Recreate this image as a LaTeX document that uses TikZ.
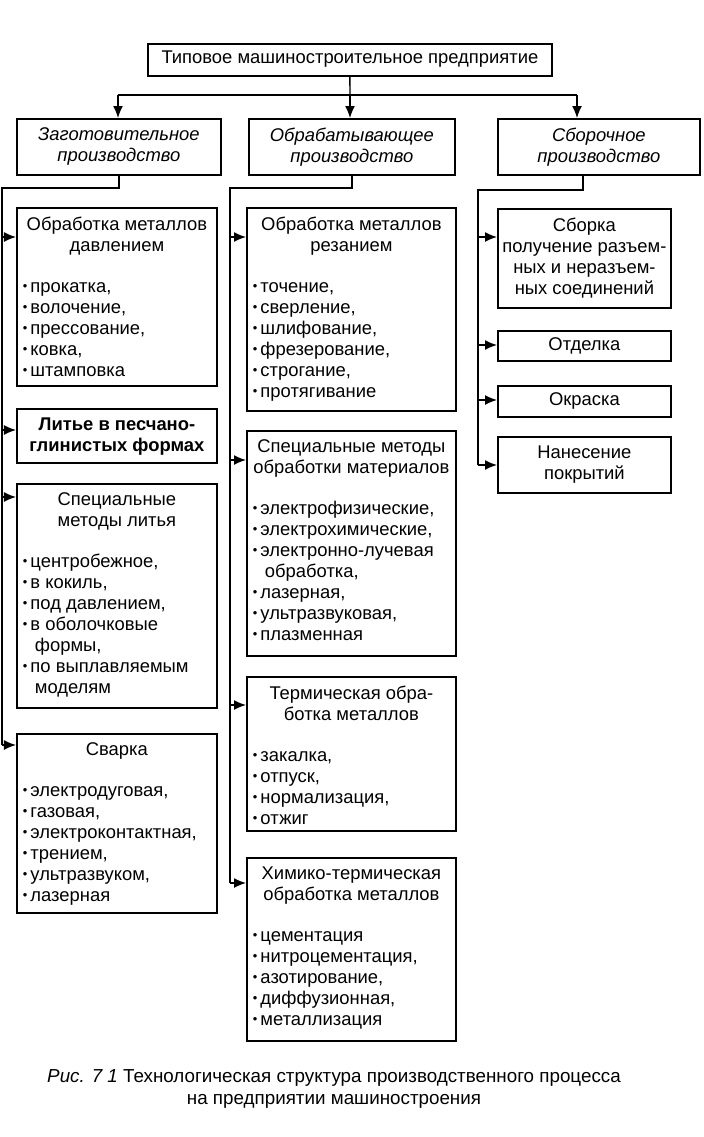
\documentclass[tikz,border=0pt]{standalone}
\usepackage{fontspec}
\setmainfont{Liberation Sans}
\usetikzlibrary{arrows.meta,calc}
\newcommand\bul{\raisebox{0.2ex}{\scalebox{0.7}{\textbullet}}\,}
% box contents: width, height (pt), text
\newcommand\cbox[3]{\parbox[c][#2pt][t]{#1pt}{\vspace*{4.5pt}#3}}
\newcommand\items{\par\vspace{10pt}\raggedright\leftskip=3pt}
\tikzset{
  blk/.style={draw, line width=0.9pt, anchor=north west, inner sep=0pt,
    font=\fontsize{9.2}{10.5}\selectfont},
  arr/.style={-{Latex[length=6pt,width=5pt]}, line width=0.7pt},
  ln/.style={line width=0.7pt}
}
\begin{document}
\begin{tikzpicture}[x=0.5pt,y=-0.5pt]
\useasboundingbox (0,0) rectangle (704,1137);
% top
\node[blk] (top) at (147,43) {\cbox{202}{16}{\centering\vspace*{-1pt}Типовое машиностроительное предприятие}};
\node[blk] (zag) at (16,118) {\cbox{102}{28}{\centering\itshape Заготовительное\\производство}};
\node[blk] (obr) at (248,118) {\cbox{103}{28}{\centering\itshape Обрабатывающее\\производство}};
\node[blk] (sbor) at (497,118) {\cbox{101}{28}{\centering\itshape Сборочное\\производство}};
\coordinate (tj) at (350,95);
\draw[ln] (top.south) -- (tj);
\draw[arr] (118,95) -- (118,118);
\draw[arr] (tj) -- (350,118);
\draw[arr] (577,95) -- (577,118);
\draw[ln] (118,95) -- (577,95);
% left column
\node[blk] (l1) at (16,207) {\cbox{100}{89}{\centering Обработка металлов\\давлением\items\bul прокатка,\\\bul волочение,\\\bul прессование,\\\bul ковка,\\\bul штамповка}};
\node[blk] (l2) at (16,408) {\cbox{100}{27}{\centering\bfseries Литье в песчано-\\глинистых формах}};
\node[blk] (l3) at (16,483) {\cbox{100}{112}{\centering Специальные\\методы литья\items\bul центробежное,\\\bul в кокиль,\\\bul под давлением,\\\bul в оболочковые\\\hspace*{6pt}формы,\\\bul по выплавляемым\\\hspace*{6pt}моделям}};
\node[blk] (l4) at (16,733) {\cbox{100}{89.5}{\centering Сварка\items\bul электродуговая,\\\bul газовая,\\\bul электроконтактная,\\\bul трением,\\\bul ультразвуком,\\\bul лазерная}};
\coordinate (lv) at (2,188);
\draw[ln] (zag.south) |- (lv) -- (2,745);
\draw[arr] (2,237) -- (l1.west |- 0,237);
\draw[arr] (2,430) -- (l2.west |- 0,430);
\draw[arr] (2,497) -- (l3.west |- 0,497);
\draw[arr] (2,745) -- (l4.west |- 0,745);
% middle column
\node[blk] (m1) at (246,207) {\cbox{104.5}{101.5}{\centering Обработка металлов\\резанием\items\bul точение,\\\bul сверление,\\\bul шлифование,\\\bul фрезерование,\\\bul строгание,\\\bul протягивание}};
\node[blk] (m2) at (246,430) {\cbox{104.5}{112.5}{\centering Специальные методы\\обработки материалов\items\bul электрофизические,\\\bul электрохимические,\\\bul электронно-лучевая\\\hspace*{6pt}обработка,\\\bul лазерная,\\\bul ультразвуковая,\\\bul плазменная}};
\node[blk] (m3) at (246,676) {\cbox{104.5}{77}{\centering Термическая обра-\\ботка металлов\items\bul закалка,\\\bul отпуск,\\\bul нормализация,\\\bul отжиг}};
\node[blk] (m4) at (246,857) {\cbox{104.5}{91.5}{\centering Химико-термическая\\обработка металлов\items\bul цементация\\\bul нитроцементация,\\\bul азотирование,\\\bul диффузионная,\\\bul металлизация}};
\coordinate (mv) at (230,188);
\draw[ln] (obr.south) |- (mv) -- (230,883);
\draw[arr] (230,237) -- (m1.west |- 0,237);
\draw[arr] (230,460) -- (m2.west |- 0,460);
\draw[arr] (230,705) -- (m3.west |- 0,705);
\draw[arr] (230,883) -- (m4.west |- 0,883);
% right column
\node[blk] (r1) at (497,208) {\cbox{86.5}{49.5}{\centering Сборка\\получение разъем-\\ных и неразъем-\\ных соединений}};
\node[blk] (r2) at (497,330) {\cbox{86.5}{15}{\centering\vspace*{-1pt}Отделка}};
\node[blk] (r3) at (497,385) {\cbox{86.5}{15.5}{\centering\vspace*{-1pt}Окраска}};
\node[blk] (r4) at (497,436) {\cbox{86.5}{28}{\centering Нанесение\\покрытий}};
\coordinate (rv) at (478,190);
\draw[ln] (583,175) |- (rv) -- (478,465);
\draw[arr] (478,237) -- (r1.west |- 0,237);
\draw[arr] (478,345) -- (r2.west |- 0,345);
\draw[arr] (478,400) -- (r3.west |- 0,400);
\draw[arr] (478,465) -- (r4.west |- 0,465);
% caption
\node[align=center, font=\fontsize{9.4}{11}\selectfont] (cap) at (334,1089)
  {\textit{Рис. 7 1} Технологическая структура производственного процесса\\на предприятии машиностроения};
\end{tikzpicture}
\end{document}
